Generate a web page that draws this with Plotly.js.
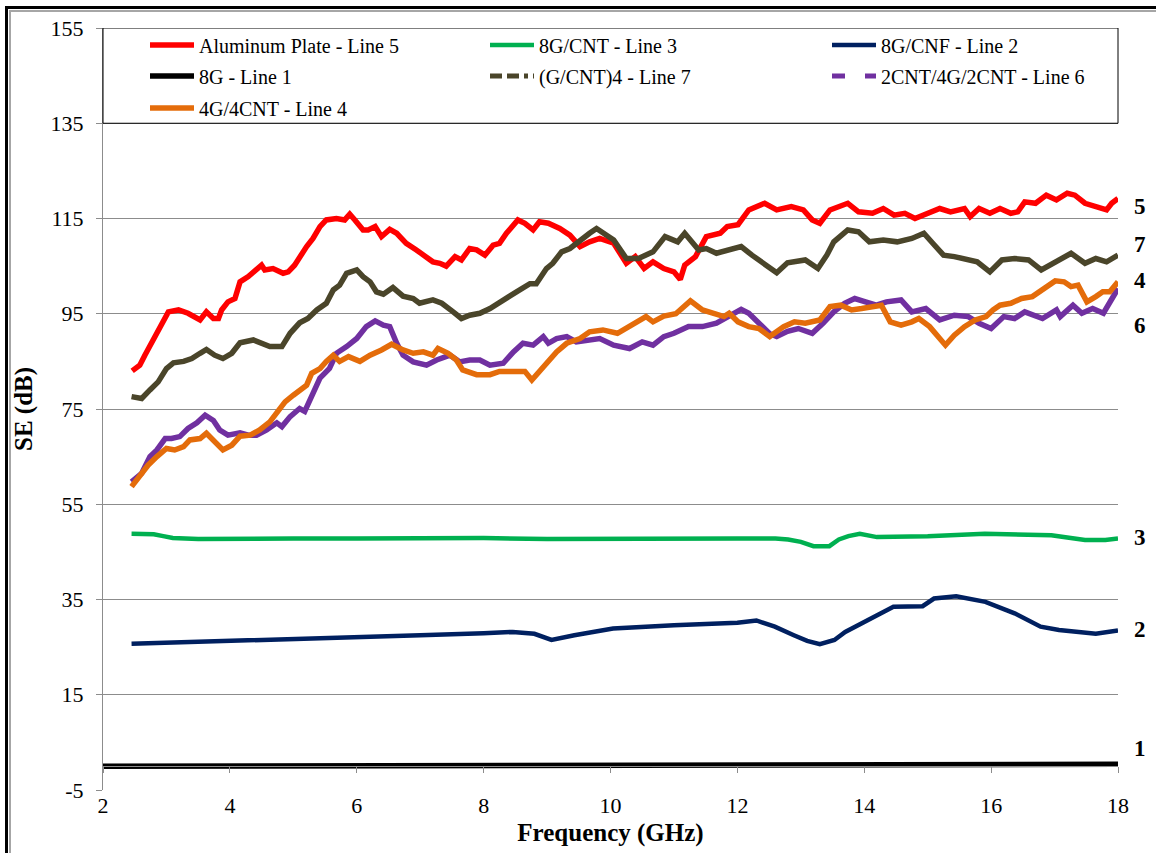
<!DOCTYPE html>
<html>
<head>
<meta charset="utf-8">
<script src="https://cdn.plot.ly/plotly-3.0.1.min.js"></script>
<style>
  html, body { margin: 0; padding: 0; background: #fff; overflow: hidden; }
  #frame { position: absolute; left: 5px; top: 6px; width: 1300px; height: 1000px;
           border-left: 3px solid #000; border-top: 3px solid #000; }
  #frame::after { content: ""; position: absolute; left: 1px; top: 1px; width: 100%; height: 100%;
           border-left: 2px solid #a6a6a6; border-top: 2px solid #a6a6a6; }
  #chart { position: absolute; left: 0; top: 0; width: 1156px; height: 853px; }
</style>
</head>
<body>
<div id="frame"></div>
<div id="chart"></div>
<script>
// Shielding effectiveness (dB) versus frequency (GHz) for each sample

// Line 5 - Aluminum plate
const freqAl = [2.46,2.58,2.66,2.79,2.92,3.03,3.19,3.34,3.53,3.63,3.74,3.82,3.87,3.97,4.08,4.16,4.29,4.42,4.50,4.55,4.68,4.84,4.92,5.02,5.10,5.21,5.31,5.42,5.52,5.68,5.81,5.89,5.97,6.10,6.18,6.29,6.39,6.52,6.63,6.78,6.94,7.05,7.20,7.31,7.41,7.55,7.65,7.78,7.89,8.02,8.15,8.25,8.36,8.54,8.65,8.78,8.88,9.02,9.20,9.36,9.52,9.67,9.83,10.05,10.25,10.39,10.53,10.67,10.84,11.00,11.10,11.17,11.34,11.51,11.73,11.84,12.01,12.18,12.43,12.62,12.85,13.04,13.18,13.30,13.46,13.74,13.91,14.13,14.30,14.47,14.64,14.80,15.03,15.19,15.36,15.58,15.67,15.81,15.98,16.14,16.31,16.42,16.53,16.70,16.87,17.03,17.20,17.32,17.48,17.65,17.82,17.90,18.00];
const seAl = [83.0,84.2,86.3,89.5,93.0,95.4,95.8,95.1,93.7,95.4,94.0,94.0,95.8,97.5,98.2,101.7,102.8,104.2,105.2,104.2,104.5,103.5,103.8,105.2,107.0,109.1,110.8,113.3,114.7,115.0,114.7,115.9,114.7,112.6,112.6,113.3,111.2,112.7,111.9,109.8,108.4,107.3,105.9,105.6,105.0,107.0,106.3,108.7,108.4,107.3,109.4,109.8,111.9,114.7,114.0,112.6,114.3,114.0,112.9,111.5,109.1,110.1,110.8,109.8,105.6,107.0,104.5,105.9,104.5,103.8,102.2,105.2,107.0,111.2,111.9,113.3,113.7,116.8,118.2,116.8,117.5,116.8,114.7,114.0,116.8,118.2,116.4,116.1,117.1,115.7,116.1,115.0,116.4,117.1,116.4,117.1,115.4,117.1,116.1,117.1,116.1,116.4,118.5,118.2,119.9,118.9,120.3,119.9,118.2,117.5,116.8,118.2,119.2];

// Line 3 - 8G/CNT
const freqGCnt = [2.45,2.6,2.8,2.95,3.1,3.5,4.0,5.0,6.0,7.0,8.0,9.0,10.0,11.0,12.0,12.6,12.8,13.0,13.2,13.45,13.6,13.75,13.93,14.2,15.0,15.9,16.5,16.95,17.2,17.48,17.8,18.0];
const seGCnt = [48.8,48.8,48.7,48.3,47.9,47.7,47.8,47.8,47.8,47.9,47.9,47.7,47.8,47.8,47.8,47.8,47.6,47.1,46.2,46.2,47.6,48.3,48.8,48.1,48.3,48.8,48.7,48.5,48.0,47.5,47.5,47.8];

// Line 2 - 8G/CNF
const freqGCnf = [2.45,3.0,4.0,5.0,6.0,7.0,8.0,8.46,8.8,9.07,9.43,9.84,10.04,11.0,12.0,12.3,12.59,12.89,13.1,13.3,13.53,13.7,14.05,14.46,14.92,15.1,15.45,15.91,16.37,16.78,17.07,17.4,17.65,18.0];
const seGCnf = [25.7,25.9,26.2,26.6,27.1,27.5,27.9,28.2,27.8,26.5,27.5,28.4,28.9,29.6,30.1,30.6,29.3,27.5,26.3,25.6,26.5,28.2,30.7,33.5,33.6,35.2,35.7,34.5,32.1,29.3,28.6,28.1,27.8,28.5];

// Line 1 - 8G
const freqG = [2,6,10,14,18];
const seG = [0.0,0.1,0.2,0.3,0.4];

// Line 7 - (G/CNT)4
const freqGCnt4 = [2.45,2.61,2.74,2.87,3.00,3.11,3.27,3.40,3.53,3.63,3.76,3.89,4.03,4.16,4.37,4.50,4.63,4.82,4.95,5.10,5.23,5.37,5.52,5.63,5.73,5.84,6.00,6.10,6.21,6.31,6.42,6.57,6.73,6.89,6.99,7.20,7.34,7.52,7.65,7.78,7.94,8.10,8.25,8.41,8.57,8.73,8.83,8.99,9.09,9.23,9.36,9.52,9.67,9.78,9.93,10.05,10.25,10.44,10.67,10.86,11.06,11.17,11.39,11.51,11.67,11.90,12.06,12.23,12.46,12.62,12.79,13.07,13.27,13.41,13.52,13.74,13.91,14.08,14.30,14.52,14.75,14.94,15.08,15.25,15.42,15.58,15.78,15.98,16.17,16.37,16.59,16.79,16.98,17.26,17.48,17.65,17.82,18.00];
const seGCnt4 = [77.6,77.2,79.0,80.7,83.5,84.7,85.0,85.6,86.7,87.5,86.3,85.6,86.7,88.9,89.5,88.7,88.1,88.1,90.9,93.1,94.0,95.8,97.2,100.0,101.0,103.5,104.2,102.8,101.7,99.6,99.1,100.5,98.7,98.2,97.2,97.9,97.2,95.4,94.0,94.7,95.1,96.1,97.2,98.7,100.0,101.3,101.3,104.5,105.6,108.0,108.7,110.5,111.9,112.9,111.5,110.5,106.6,106.6,108.0,111.2,110.1,111.9,108.4,108.7,107.7,108.7,109.1,107.3,105.2,103.6,105.7,106.3,104.5,107.3,110.1,112.6,112.2,110.1,110.5,110.1,110.8,111.9,109.8,107.3,107.0,106.6,105.9,103.8,106.3,106.6,106.3,104.2,105.6,107.7,105.6,106.6,105.9,107.3];

// Line 6 - 2CNT/4G/2CNT
const freqSandwich = [2.45,2.61,2.74,2.85,2.98,3.08,3.21,3.34,3.48,3.61,3.74,3.84,3.97,4.16,4.29,4.42,4.58,4.74,4.82,4.95,5.10,5.18,5.31,5.42,5.57,5.68,5.84,6.00,6.15,6.29,6.42,6.52,6.63,6.73,6.89,7.10,7.26,7.47,7.62,7.78,7.94,8.10,8.31,8.47,8.62,8.78,8.94,9.02,9.15,9.31,9.46,9.62,9.83,10.05,10.30,10.50,10.67,10.84,11.00,11.23,11.45,11.67,11.84,12.06,12.18,12.34,12.51,12.62,12.79,12.96,13.18,13.35,13.52,13.69,13.85,14.02,14.19,14.35,14.58,14.75,14.97,15.19,15.42,15.64,15.81,16.00,16.20,16.37,16.53,16.81,17.03,17.09,17.29,17.43,17.60,17.77,17.90,18.00];
const seSandwich = [59.7,61.5,65.0,66.4,68.8,68.8,69.2,70.9,72.1,73.7,72.6,70.6,69.5,70.0,69.5,69.5,70.6,72.1,71.3,73.4,75.1,74.5,78.3,81.5,83.5,86.7,88.1,89.8,92.3,93.5,92.6,92.3,88.8,86.3,84.9,84.2,85.3,86.3,84.9,85.3,85.3,84.2,84.6,87.0,88.8,88.4,90.2,88.8,89.8,90.2,89.1,89.5,89.8,88.4,87.7,89.1,88.4,90.2,90.9,92.3,92.3,93.0,94.4,95.9,95.1,93.0,90.8,90.2,91.3,91.9,90.9,93.0,95.4,97.2,98.2,97.5,96.8,97.5,97.9,95.4,96.1,93.7,94.7,94.4,93.0,91.9,94.4,94.0,95.4,94.0,95.8,94.4,96.8,95.1,96.1,95.1,98.2,100.3];

// Line 4 - 4G/4CNT
const freqBilayer = [2.45,2.58,2.71,2.85,3.00,3.13,3.27,3.37,3.53,3.63,3.76,3.89,4.03,4.16,4.32,4.47,4.63,4.74,4.87,5.00,5.10,5.21,5.29,5.42,5.52,5.63,5.73,5.87,6.05,6.21,6.39,6.55,6.73,6.89,7.05,7.20,7.28,7.44,7.57,7.67,7.89,8.10,8.25,8.47,8.65,8.76,8.88,9.02,9.15,9.31,9.52,9.67,9.88,10.11,10.33,10.56,10.67,10.84,11.03,11.26,11.45,11.62,11.79,11.87,12.01,12.18,12.34,12.51,12.73,12.90,13.07,13.30,13.46,13.63,13.80,13.96,14.13,14.27,14.41,14.58,14.75,14.86,15.03,15.17,15.28,15.42,15.58,15.75,15.92,16.03,16.14,16.31,16.48,16.65,16.81,17.01,17.15,17.26,17.37,17.51,17.65,17.76,17.87,18.00];
const seBilayer = [58.7,60.8,63.2,65.0,66.7,66.4,67.1,68.5,68.8,69.9,68.1,66.4,67.4,69.3,69.5,70.6,72.3,74.4,76.5,77.9,79.0,80.0,82.5,83.5,85.0,86.3,85.0,86.0,85.0,86.3,87.4,88.6,87.4,86.7,87.0,86.3,87.7,86.7,85.3,83.2,82.2,82.2,82.9,82.9,82.9,81.1,82.9,85.0,87.0,88.8,89.8,91.2,91.6,90.9,92.6,94.4,93.3,94.5,95.0,97.7,95.8,95.2,94.4,95.1,93.3,92.3,91.9,90.2,92.3,93.3,93.0,93.7,96.5,96.8,95.8,96.1,96.5,96.8,93.3,92.6,93.3,94.0,92.3,90.2,88.4,90.5,92.3,93.7,94.4,95.8,96.8,97.2,98.2,98.6,100.0,101.9,101.7,100.7,101.0,97.5,98.6,99.6,99.6,101.7];

// Axis ticks and end-of-line labels
const yTicks = [-5, 15, 35, 55, 75, 95, 115, 135, 155];
const yTickLabels = ['-5', '15', '35', '55', '75', '95', '115', '135', '155'];
const xTicks = [2, 4, 6, 8, 10, 12, 14, 16, 18];
const lineNumbers = ['5','7','4','6','3','2','1'];
const lineNumberLevels = [117.6, 109.6, 101.9, 92.6, 48.1, 28.6, 3.8];

// ---------------------------------------------------------------
const W = 1156, H = 853;
const M = { l: 103, r: 38, t: 28, b: 63 };
const plotW = W - M.l - M.r, plotH = H - M.t - M.b;
const serif = 'Liberation Serif, Times New Roman, serif';
const gridGray = '#8c8c8c';
const yMin = yTicks[0], yMax = yTicks[yTicks.length - 1];
const xMin = xTicks[0], xMax = xTicks[xTicks.length - 1];

function legendAt(px, py) {
  return {
    x: (px - M.l) / plotW, y: 1 - (py - M.t) / plotH,
    xanchor: 'left', yanchor: 'middle', orientation: 'v',
    bgcolor: 'rgba(0,0,0,0)', borderwidth: 0, itemwidth: 44,
    font: { family: serif, size: 20, color: '#000' }
  };
}

function line(x, y, name, color, width, legend, extra) {
  return Object.assign({
    type: 'scatter', mode: 'lines', x: x, y: y, name: name,
    line: { color: color, width: width }, legend: legend, hoverinfo: 'x+y+name'
  }, extra || {});
}

const colOlive = '#4a452a', colPurple = '#7030a0';

const traces = [
  line(freqAl, seAl, 'Aluminum Plate - Line 5', '#ff0000', 5.5, 'legend'),
  line(freqGCnt, seGCnt, '8G/CNT - Line 3', '#00b050', 4.5, 'legend2'),
  line(freqGCnf, seGCnf, '8G/CNF - Line 2', '#002060', 4.5, 'legend3'),
  line(freqG, seG, '8G - Line 1', '#000000', 5.5, 'legend4', { xaxis: 'x2' }),
  line(freqGCnt4, seGCnt4, '(G/CNT)4 - Line 7', colOlive, 5.5, 'legend5', { showlegend: false }),
  line(freqSandwich, seSandwich, '2CNT/4G/2CNT - Line 6', colPurple, 5.5, 'legend6', { showlegend: false }),
  line(freqBilayer, seBilayer, '4G/4CNT - Line 4', '#e46c0a', 5.5, 'legend7'),
  // legend keys for the dashed series
  line([null], [null], '(G/CNT)4 - Line 7', colOlive, 5, 'legend5',
       { line: { color: colOlive, width: 5, dash: '12px,5px,12px,5px,4px,5px' }, hoverinfo: 'skip' }),
  line([null], [null], '2CNT/4G/2CNT - Line 6', colPurple, 5, 'legend6',
       { line: { color: colPurple, width: 5, dash: '13px,20px' }, hoverinfo: 'skip' })
];

const colX = [145, 485, 827];
const rowY = [45, 76, 108];

const layout = {
  width: W, height: H, margin: M,
  paper_bgcolor: 'rgba(0,0,0,0)', plot_bgcolor: 'rgba(0,0,0,0)',
  font: { family: serif, color: '#000' },
  showlegend: true,
  xaxis: {
    range: [xMin, xMax], tickmode: 'array', tickvals: xTicks,
    showgrid: false, zeroline: false, showline: false, ticks: '',
    tickfont: { family: serif, size: 22, color: '#000' },
    title: { text: 'Frequency (GHz)', font: { family: serif, size: 25, weight: 'bold', color: '#000' }, standoff: 6 }
  },
  xaxis2: {
    overlaying: 'x', anchor: 'free', side: 'bottom',
    position: (0 - yMin) / (yMax - yMin),
    range: [xMin, xMax], tickmode: 'array', tickvals: xTicks,
    showgrid: false, zeroline: false, showline: true, linecolor: gridGray, linewidth: 1,
    ticks: 'outside', ticklen: 6, tickcolor: gridGray, tickwidth: 1, showticklabels: false
  },
  yaxis: {
    range: [yMin, yMax], tickmode: 'array', tickvals: yTicks, ticktext: yTickLabels,
    showgrid: true, gridcolor: gridGray, gridwidth: 1, zeroline: false,
    showline: true, linecolor: gridGray, linewidth: 1,
    ticks: 'outside', ticklen: 6, tickcolor: gridGray, tickwidth: 1,
    ticklabelstandoff: 8,
    tickfont: { family: serif, size: 22, color: '#000' },
    title: { text: 'SE (dB)', font: { family: serif, size: 25, weight: 'bold', color: '#000' }, standoff: 10 }
  },
  legend:  legendAt(colX[0], rowY[0]),
  legend2: legendAt(colX[1], rowY[0]),
  legend3: legendAt(colX[2], rowY[0]),
  legend4: legendAt(colX[0], rowY[1]),
  legend5: legendAt(colX[1], rowY[1]),
  legend6: legendAt(colX[2], rowY[1]),
  legend7: legendAt(colX[0], rowY[2]),
  shapes: [{
    type: 'rect', xref: 'paper', yref: 'y', x0: 0, x1: 1, y0: yTicks[7], y1: yMax,
    fillcolor: '#ffffff', line: { color: '#000', width: 1 }, layer: 'above'
  }],
  annotations: lineNumbers.map((t, i) => ({
    text: t, xref: 'paper', x: 1, xanchor: 'center', xshift: 22,
    yref: 'y', y: lineNumberLevels[i], yanchor: 'middle', showarrow: false,
    font: { family: serif, size: 23, weight: 'bold', color: '#000' }
  }))
};

Plotly.newPlot('chart', traces, layout, { displayModeBar: false, staticPlot: true });
</script>
</body>
</html>
